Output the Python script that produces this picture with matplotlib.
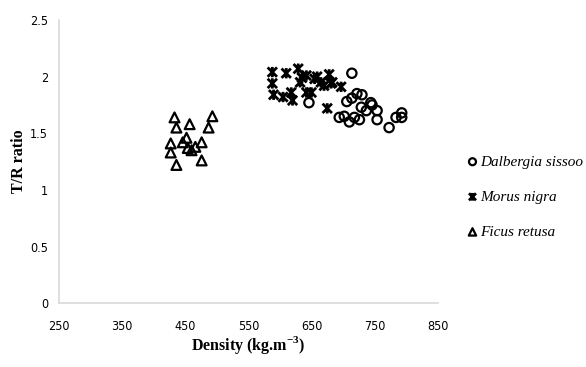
import matplotlib.pyplot as plt
from matplotlib.path import Path

# Dalbergia sissoo
dal_x = [646, 694, 702, 706, 710, 714, 714, 718, 722, 726, 729, 730, 737, 744, 746, 754, 754, 773, 784, 793, 793]
dal_y = [1.77, 1.64, 1.65, 1.78, 1.60, 2.03, 1.81, 1.64, 1.85, 1.62, 1.73, 1.84, 1.70, 1.77, 1.75, 1.70, 1.62, 1.55, 1.64, 1.68, 1.64]

# Morus nigra
mor_x = [588, 588, 590, 605, 610, 618, 620, 629, 632, 635, 642, 642, 650, 655, 659, 665, 670, 678, 681, 683, 697, 675]
mor_y = [2.04, 1.94, 1.84, 1.82, 2.03, 1.86, 1.79, 2.07, 1.95, 1.99, 2.01, 1.86, 1.86, 1.98, 2.00, 1.95, 1.92, 2.02, 1.94, 1.95, 1.91, 1.72]

# Ficus retusa
fic_x = [433, 436, 457, 493, 487, 427, 427, 446, 452, 454, 460, 466, 476, 476, 436]
fic_y = [1.64, 1.55, 1.58, 1.65, 1.55, 1.41, 1.33, 1.42, 1.46, 1.37, 1.35, 1.38, 1.42, 1.26, 1.22]

x_ticks = [250, 350, 450, 550, 650, 750, 850]
y_ticks = [0, 0.5, 1, 1.5, 2, 2.5]
y_ticklabels = ['0', '0.5', '1', '1.5', '2', '2.5']

# star marker: X with a vertical bar
verts = [(-1, -1), (1, 1), (-1, 1), (1, -1), (0, -1.1), (0, 1.1)]
codes = [Path.MOVETO, Path.LINETO] * 3
star = Path(verts, codes)

fig = plt.figure(figsize=(5.86, 3.67), dpi=100)
ax = fig.add_axes([0.1007, 0.174, 0.6462, 0.7715])

ax.scatter(dal_x, dal_y, s=45, marker='o', facecolors='none', edgecolors='black',
           linewidths=1.6, label='Dalbergia sissoo')
ax.scatter(mor_x, mor_y, s=55, marker=star, facecolors='none', edgecolors='black',
           linewidths=2.0, label='Morus nigra')
ax.scatter(fic_x, fic_y, s=50, marker='^', facecolors='none', edgecolors='black',
           linewidths=1.6, label='Ficus retusa')

ax.set_xlim(250, 850)
ax.set_ylim(0, 2.5)
ax.set_xticks(x_ticks)
ax.set_yticks(y_ticks)
ax.set_xticklabels([str(v) for v in x_ticks], family='DejaVu Sans',
                   stretch='condensed', fontsize=9)
ax.set_yticklabels(y_ticklabels, family='DejaVu Sans', stretch='condensed', fontsize=9)
ax.tick_params(length=0)
ax.tick_params(axis='x', pad=12)
ax.tick_params(axis='y', pad=8)

for s in ['top', 'right']:
    ax.spines[s].set_visible(False)
for s in ['left', 'bottom']:
    ax.spines[s].set_color('#d9d9d9')
    ax.spines[s].set_linewidth(1.2)

ax.set_xlabel('Density (kg.m$^{\\mathregular{-3}}$)', family='Liberation Serif',
              fontweight='bold', fontsize=11.5)
ax.xaxis.set_label_coords(0.5, -0.11)
ax.set_ylabel('T/R ratio', family='Liberation Serif', fontweight='bold', fontsize=11.5)
ax.yaxis.set_label_coords(-0.085, 0.5)

fig.legend(loc='upper left', bbox_to_anchor=(0.775, 0.615), frameon=False,
           prop={'family': 'Liberation Serif', 'style': 'italic', 'size': 11},
           handlelength=0.6, handletextpad=0.2, labelspacing=1.4,
           markerscale=0.75)

fig.savefig('out.png', dpi=100)
